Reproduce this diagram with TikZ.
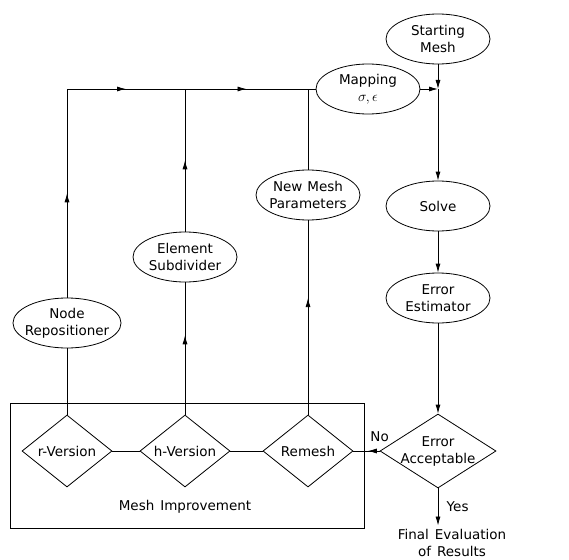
\documentclass[tikz,border=0pt]{standalone}
\usepackage{fontspec}
\setmainfont{DejaVu Sans}
\usetikzlibrary{arrows.meta,positioning,shapes.geometric,fit,decorations.markings}

\begin{document}
\begin{tikzpicture}[
  x=1pt, y=1pt, on grid, thick,
  font=\fontsize{13.5}{17}\selectfont,
  oval/.style={draw, ellipse, align=center, minimum width=104pt, minimum height=50pt, inner xsep=-4pt, inner ysep=0pt},
  choice/.style={draw, diamond, align=center, minimum width=90pt, minimum height=72pt, inner sep=0pt, aspect=1.3},
  arr/.style={-{Latex[length=9pt,width=5pt]}},
  midarr/.style={postaction={decorate}, decoration={markings, mark=at position #1 with {\arrow{Latex[length=9pt,width=5pt]}}}}
]
\useasboundingbox (0,0) rectangle (569,-559);
\node[oval] (start) at (438,-39) {Starting\\Mesh};
\node[oval, below left=50pt and 70pt of start] (map) {Mapping\\$\sigma,\epsilon$};
\node[oval, below=167pt of start] (solve) {Solve};
\node[oval, below=92pt of solve] (est) {Error\\Estimator};
\node[choice, minimum width=116pt, minimum height=74pt, aspect=1.55, inner sep=-2pt, below=153pt of est] (acc) {Error\\Acceptable};
\node[choice, left=130pt of acc] (remesh) {Remesh};
\node[choice, left=123pt of remesh] (hver) {h-Version};
\node[choice, left=118pt of hver] (rver) {r-Version};
\node[oval, above=256pt of remesh] (newmesh) {New\hspace{5pt}Mesh\\Parameters};
\node[oval, above=194pt of hver] (elem) {Element\\Subdivider};
\node[oval, above=128pt of rver] (noderep) {Node\\Repositioner};
\node[below=56pt of hver] (imp) {Mesh\hspace{6pt}Improvement};
\node[draw, fit=(rver)(remesh)(imp), inner sep=11pt] (box) {};
\node[align=center, below right=92pt and 14pt of acc] (final) {Final\hspace{6pt}Evaluation\\of\hspace{6pt}Results};

\draw[arr] (start) -- (start |- map);
\draw[arr] (map) -- (start |- map);
\draw[arr] (start |- map) -- (solve);
\draw[arr] (solve) -- (est);
\draw[arr] (est) -- (acc);
\draw[arr] (acc.south) -- node[right=5pt]{Yes} (acc.south |- final.north);
\draw[midarr=0.45] (acc.west) -- node[above=6pt, pos=0]{No} (remesh.east);
\draw (remesh) -- (hver);
\draw (hver) -- (rver);
\draw (rver) -- (noderep);
\draw[midarr=0.6] (hver) -- (elem);
\draw[midarr=0.6] (remesh) -- (newmesh);
\draw (newmesh) -- (newmesh |- map);
\draw[midarr=0.5] (elem) -- (elem |- map);
\draw[midarr=0.5] (noderep) -- (noderep |- map);
\draw[midarr=0.5] (noderep |- map) -- (elem |- map);
\draw[midarr=0.5] (elem |- map) -- (newmesh |- map);
\draw (newmesh |- map) -- (map);
\end{tikzpicture}
\end{document}
